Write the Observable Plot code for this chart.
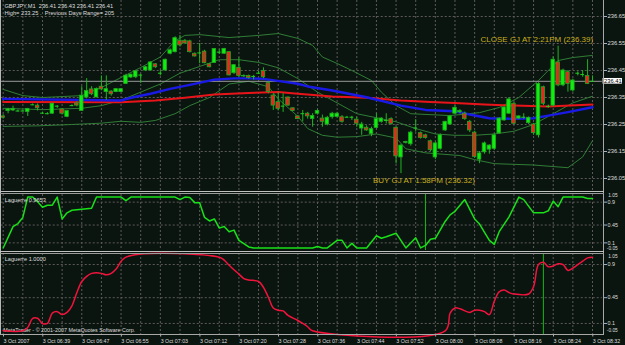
<!DOCTYPE html>
<html><head><meta charset="utf-8">
<script src="https://cdn.jsdelivr.net/npm/d3@7"></script>
<script src="https://cdn.jsdelivr.net/npm/@observablehq/plot@0.6"></script>
<style>
html,body{margin:0;padding:0;background:#0b1510;}
#c{position:relative;width:625px;height:345px;background:#0b1510;overflow:hidden;font-family:"Liberation Sans",Arial,sans-serif;}
.p{position:absolute;left:0;}
.p svg{display:block;overflow:visible;}
.ln{position:absolute;background:#a0a0a0;}
</style></head><body><div id="c"></div>
<script>
// ---------------- data ----------------
const open  = [236.280,236.300,236.302,236.300,236.300,236.296,236.323,236.320,236.292,236.290,236.290,236.318,236.306,236.278,236.320,236.328,236.300,236.350,236.380,236.350,236.390,236.370,236.372,236.370,236.370,236.400,236.424,236.425,236.433,236.450,236.450,236.473,236.440,236.450,236.512,236.518,236.560,236.560,236.558,236.512,236.515,236.520,236.473,236.478,236.518,236.512,236.518,236.440,236.460,236.430,236.430,236.428,236.440,236.448,236.403,236.357,236.333,236.318,236.350,236.310,236.280,236.290,236.290,236.270,236.290,236.272,236.250,236.277,236.278,236.277,236.277,236.277,236.268,236.235,236.238,236.215,236.237,236.260,236.265,236.270,236.238,236.128,236.182,236.177,236.237,236.218,236.210,236.188,236.128,236.160,236.228,236.250,236.290,236.295,236.290,236.260,236.220,236.120,236.147,236.157,236.160,236.217,236.265,236.290,236.327,236.272,236.277,236.255,236.250,236.210,236.388,236.317,236.320,236.480,236.395,236.444,236.376,236.440,236.435,236.430,236.410];
const high  = [236.286,236.310,236.318,236.304,236.302,236.308,236.326,236.326,236.296,236.294,236.328,236.320,236.309,236.300,236.323,236.334,236.390,236.420,236.390,236.385,236.430,236.430,236.375,236.382,236.382,236.436,236.436,236.450,236.436,236.465,236.482,236.476,236.451,236.492,236.530,236.575,236.580,236.565,236.562,236.515,236.550,236.525,236.476,236.530,236.527,236.532,236.520,236.470,236.497,236.434,236.433,236.432,236.447,236.460,236.410,236.364,236.370,236.364,236.352,236.312,236.283,236.302,236.295,236.290,236.305,236.285,236.280,236.295,236.295,236.283,236.280,236.280,236.277,236.258,236.245,236.240,236.290,236.275,236.290,236.275,236.242,236.175,236.188,236.225,236.268,236.222,236.214,236.192,236.185,236.215,236.262,236.284,236.320,236.305,236.296,236.265,236.225,236.150,236.185,236.175,236.215,236.275,236.318,236.350,236.332,236.282,236.290,236.278,236.254,236.405,236.392,236.322,236.500,236.540,236.455,236.450,236.418,236.445,236.450,236.490,236.430];
const low   = [236.270,236.290,236.298,236.296,236.297,236.280,236.320,236.300,236.288,236.286,236.288,236.310,236.285,236.275,236.316,236.315,236.300,236.345,236.357,236.350,236.375,236.340,236.355,236.368,236.368,236.398,236.420,236.420,236.402,236.446,236.448,236.458,236.430,236.448,236.508,236.515,236.537,236.548,236.515,236.500,236.475,236.475,236.460,236.476,236.510,236.510,236.430,236.435,236.425,236.424,236.418,236.415,236.437,236.420,236.364,236.302,236.300,236.295,236.318,236.298,236.268,236.260,236.270,236.240,236.285,236.240,236.245,236.270,236.275,236.255,236.274,236.265,236.240,236.210,236.225,236.205,236.234,236.255,236.252,236.248,236.104,236.068,236.178,236.170,236.222,236.196,236.196,236.150,236.120,236.155,236.224,236.246,236.285,236.290,236.265,236.220,236.125,236.105,236.140,236.140,236.155,236.214,236.262,236.288,236.250,236.268,236.270,236.250,236.210,236.200,236.320,236.310,236.315,236.390,236.390,236.370,236.370,236.430,236.425,236.398,236.410];
const close = [236.275,236.306,236.308,236.300,236.300,236.308,236.323,236.310,236.292,236.290,236.327,236.318,236.290,236.300,236.320,236.320,236.357,236.374,236.362,236.382,236.380,236.381,236.362,236.381,236.381,236.431,236.435,236.447,236.433,236.462,236.480,236.462,236.440,236.490,236.525,236.570,236.543,236.550,236.518,236.502,236.515,236.477,236.462,236.530,236.518,236.530,236.432,236.470,236.430,236.428,236.422,236.428,236.440,236.425,236.370,236.320,236.308,236.318,236.320,236.300,236.270,236.290,236.280,236.282,236.300,236.260,236.275,236.290,236.290,236.260,236.277,236.277,236.253,236.250,236.228,236.233,236.270,236.272,236.265,236.252,236.132,236.172,236.185,236.220,236.237,236.200,236.200,236.155,236.180,236.210,236.260,236.280,236.312,236.300,236.270,236.228,236.130,236.143,236.180,236.172,236.210,236.272,236.313,236.343,236.253,236.280,236.277,236.275,236.218,236.400,236.327,236.317,236.490,236.395,236.450,236.400,236.413,236.440,236.435,236.400,236.410];

// moving averages: [bar, price]
const maBlue = [[0,236.345],[24,236.339],[26,236.349],[30,236.364],[34,236.382],[38,236.397],[43,236.416],[47,236.421],[50,236.421],[53,236.419],[57,236.409],[60,236.401],[62,236.391],[67,236.376],[74,236.351],[81,236.320],[86,236.304],[92,236.299],[95,236.287],[99,236.273],[104,236.271],[108,236.273],[111,236.283],[115,236.296],[120,236.314]];
const maRed  = [[0,236.333],[24,236.332],[28,236.336],[31,236.339],[37,236.349],[43,236.361],[50,236.367],[56,236.370],[60,236.364],[67,236.354],[74,236.349],[81,236.339],[87,236.333],[92,236.330],[98,236.324],[104,236.320],[111,236.317],[120,236.324]];
// Bollinger bands: [bar, price]
const bbUpper = [[0,236.380],[4,236.357],[8,236.350],[16,236.357],[20,236.387],[24,236.424],[28,236.461],[32,236.500],[35,236.560],[37,236.580],[40,236.583],[46,236.572],[52,236.580],[56,236.587],[60,236.569],[63,236.543],[65,236.500],[68,236.476],[71,236.450],[75,236.413],[77,236.370],[80,236.320],[83,236.290],[91,236.283],[97,236.294],[101,236.313],[105,236.350],[109,236.413],[113,236.487],[116,236.498],[120,236.506]];
const bbMid = [[0,236.310],[8,236.305],[16,236.310],[20,236.320],[24,236.340],[28,236.370],[32,236.400],[36,236.440],[40,236.465],[44,236.490],[48,236.490],[52,236.480],[56,236.460],[60,236.420],[64,236.370],[68,236.330],[72,236.290],[76,236.275],[80,236.260],[84,236.235],[88,236.215],[92,236.210],[96,236.210],[100,236.215],[104,236.225],[108,236.250],[112,236.290],[116,236.330],[120,236.355]];
const bbLower = [[0,236.243],[7,236.245],[14,236.250],[20,236.255],[24,236.262],[28,236.258],[31,236.265],[35,236.290],[38,236.320],[42,236.350],[46,236.400],[50,236.410],[54,236.390],[56,236.345],[60,236.280],[62,236.235],[65,236.210],[68,236.203],[72,236.205],[76,236.215],[80,236.200],[82,236.160],[86,236.145],[93,236.135],[96,236.120],[100,236.105],[108,236.100],[115,236.090],[118,236.130],[120,236.190]];

// Laguerre indicators: [bar, value]
const lagFast = [[0,0],[2,0.42],[3,0.48],[4,0.60],[5,1],[6,1],[7,0.91],[8,0.80],[9,0.84],[10,0.84],[11,1],[12,0.57],[13,0.69],[14,0.74],[16,0.76],[18,0.78],[19,1],[24,1],[25,0.93],[26,1],[35,1],[36,0.95],[37,1],[38,0.99],[39,0.89],[40,0.89],[41,0.60],[42,0.53],[43,0.57],[44,0.39],[45,0.42],[46,0.32],[47,0.35],[48,0.15],[50,0.02],[51,0],[63,0],[64,0.03],[65,0],[66,0],[68,0.15],[69,0.15],[70,0],[71,0.09],[72,0],[74,0],[76,0.24],[77,0.19],[78,0.22],[80,0.29],[82,0],[84,0.20],[85,0],[86,0.05],[87,0.17],[88,0.19],[90,0.52],[91,0.65],[92,0.72],[94,0.95],[96,0.57],[97,0.47],[99,0.15],[100,0.07],[101,0.32],[103,0.61],[105,1],[106,0.95],[108,0.69],[110,0.69],[111,0.73],[112,0.92],[113,0.81],[114,1],[118,1],[119,0.97],[120,0.97]];
const lagSlow = [[0,0],[4,0],[5,0.045],[6,0.17],[7,0.17],[8,0.10],[9,0.10],[10,0.24],[11,0.26],[12,0.22],[13,0.25],[14,0.34],[15,0.52],[16,0.67],[17,0.74],[18,0.78],[19,0.79],[20,0.78],[21,0.76],[22,0.78],[23,0.84],[25,1],[44,1],[45,0.96],[46,0.89],[48,0.77],[49,0.71],[50,0.69],[52,0.67],[53,0.59],[54,0.455],[55,0.31],[56,0.28],[57,0.27],[58,0.21],[60,0.14],[61,0.10],[62,0.055],[63,0],[90,0],[91,0.24],[92,0.31],[93,0.30],[95,0.25],[96,0.28],[97,0.28],[98,0.26],[99,0.22],[100,0.40],[101,0.53],[102,0.555],[103,0.52],[104,0.50],[107,0.50],[108,0.60],[109,0.90],[110,0.93],[111,0.87],[112,0.88],[113,0.91],[114,0.90],[115,0.82],[116,0.85],[117,0.90],[118,0.945],[119,0.99],[120,1]];

const priceTicks = [236.05,236.15,236.25,236.35,236.45,236.55,236.65];
const levelTicks = [0.9,0.45,0.1];
const timeTickBars = [0,8,16,24,32,40,48,56,64,72,80,88,96,104,112,120];
const timeLabels = ["3 Oct 2007","3 Oct 06:39","3 Oct 06:47","3 Oct 06:55","3 Oct 07:03","3 Oct 07:12","3 Oct 07:20","3 Oct 07:28","3 Oct 07:36","3 Oct 07:44","3 Oct 07:52","3 Oct 08:00","3 Oct 08:08","3 Oct 08:16","3 Oct 08:24","3 Oct 08:32"];
const notes = [{text:"CLOSE GJ AT 2:21PM (236.39)", bar:97.2, price:236.566},{text:"BUY GJ AT 1:58PM (236.32)", bar:75.3, price:236.042}];
const vMarkFast = [86];
const vMarkSlow = [110];
const titleLines = "GBPJPY,M1  236.41 236.43 236.41 236.41\nHigh= 233.25 .  Previous Days Range= 205";
const lagFastLabel = "Laguerre 0.9653";
const lagSlowLabel = "Laguerre 1.0000";
const copyright = "MetaTrader - \u00a9 2001-2007 MetaQuotes Software Corp.";

// ---------------- drawing ----------------
const FONT = "'Liberation Sans', Arial, sans-serif";
const GRID = "#5e5a5a", TXT = "#dedede";
const gridIdx = d3.range(0, 121, 4);
const candles = d3.range(121).map(i => ({i, o: open[i], h: high[i], l: low[i], c: close[i]}));
const pts = a => a.map(([i, v]) => ({i, v}));
const xScale = {domain: [0, 120], axis: null, label: null};
const base = {width: 625, marginLeft: 2.7, marginRight: 33, style: {background: "transparent", color: TXT, fontFamily: FONT, overflow: "visible"}};

const c = document.getElementById("c");
function place(el, top) { const d = document.createElement("div"); d.className = "p"; d.style.top = top + "px"; d.appendChild(el); c.appendChild(d); }
function line(l, t, w, h, col) { const d = document.createElement("div"); d.className = "ln"; Object.assign(d.style, {left: l+"px", top: t+"px", width: w+"px", height: h+"px"}); if (col) d.style.background = col; c.appendChild(d); }

const last = close[close.length - 1];
const main = Plot.plot({
  ...base, height: 190, marginTop: 0, marginBottom: 0,
  x: xScale,
  y: {domain: [236.0056, 236.7093], axis: null, label: null},
  marks: [
    Plot.ruleY(priceTicks, {x1: -0.4, x2: 122, stroke: GRID, strokeDasharray: "2,2"}),
    Plot.ruleX(gridIdx, {stroke: GRID, strokeDasharray: "2,2"}),
    Plot.line(pts(bbUpper), {x: "i", y: "v", stroke: "#2f7d35", strokeWidth: 1}),
    Plot.line(pts(bbMid), {x: "i", y: "v", stroke: "#2f7d35", strokeWidth: 1}),
    Plot.line(pts(bbLower), {x: "i", y: "v", stroke: "#2f7d35", strokeWidth: 1}),
    Plot.ruleY([last], {x1: -0.6, x2: 122, stroke: "#9a9a9a", strokeWidth: 1}),
    Plot.line(pts(maRed), {x: "i", y: "v", stroke: "#e8141a", strokeWidth: 2}),
    Plot.line(pts(maBlue), {x: "i", y: "v", stroke: "#1a1ae6", strokeWidth: 2.4}),
    Plot.ruleX(candles, {x: "i", y1: "l", y2: "h", stroke: "#1fb41f", strokeWidth: 1}),
    Plot.rect(candles.filter(d => d.o !== d.c), {x1: d => d.i - 0.36, x2: d => d.i + 0.36, y1: "o", y2: "c", fill: d => d.c > d.o ? "#0df00d" : "#e42a1c", stroke: "#22a522", strokeWidth: 0.8}),
    Plot.ruleY(candles.filter(d => d.o === d.c), {x1: d => d.i - 0.38, x2: d => d.i + 0.38, y: "o", stroke: "#1fd01f", strokeWidth: 1}),
    Plot.axisY({anchor: "right", label: null, ticks: priceTicks, tickFormat: d3.format(".2f"), tickSize: 3, tickPadding: 1, dx: 11, stroke: "#b0b0b0", fill: TXT, fontSize: 5.8, fontFamily: FONT}),
    Plot.rect([last], {x1: 122.15, x2: 126.1, y1: d => d - 0.0105, y2: d => d + 0.0105, fill: "#ffffff"}),
    Plot.text([last], {x: 122.35, y: d => d, text: d => d.toFixed(2), textAnchor: "start", fill: "#000000", fontSize: 5.8, fontFamily: FONT}),
    Plot.text(notes, {x: "bar", y: "price", text: "text", textAnchor: "start", fill: "#c9ae1e", fontSize: 8, fontFamily: FONT}),
    Plot.text([titleLines], {frameAnchor: "top-left", dx: 1.2, dy: 2.6, text: d => d, lineHeight: 1.25, textAnchor: "start", lineAnchor: "top", fill: TXT, fontSize: 5.7, fontFamily: FONT})
  ]
});
place(main, 0);

function lagPanel(data, color, label, marks, height, mb, curve, topDy, botDy) {
  return Plot.plot({
    ...base, height, marginTop: 0, marginBottom: mb,
    x: xScale,
    y: {domain: [-0.05, 1.05], axis: null, label: null},
    marks: [
      Plot.ruleY(levelTicks, {x1: -0.4, x2: 122, stroke: GRID, strokeDasharray: "2,2"}),
      Plot.ruleX(gridIdx, {stroke: GRID, strokeDasharray: "2,2"}),
      ...marks,
      Plot.line(pts(data), {x: "i", y: "v", stroke: color, strokeWidth: 1.5, curve}),
      Plot.axisY({anchor: "right", label: null, ticks: levelTicks, tickFormat: d => String(d), tickSize: 3, tickPadding: 1, dx: 11, stroke: "#b0b0b0", fill: TXT, fontSize: 5.4, fontFamily: FONT}),
      Plot.text([1.05], {x: 122.2, dx: 5, dy: topDy, y: d => d, text: d => d.toFixed(2), textAnchor: "start", fill: TXT, fontSize: 4.8, fontFamily: FONT}),
      Plot.text([-0.05], {x: 122.2, dx: 3.5, dy: botDy, y: d => d, text: d => d.toFixed(2), textAnchor: "start", fill: TXT, fontSize: 4.8, fontFamily: FONT}),
      Plot.text([label], {frameAnchor: "top-left", dx: 1.5, dy: 6, text: d => d, lineAnchor: "middle", textAnchor: "start", fill: TXT, fontSize: 5.6, fontFamily: FONT})
    ]
  });
}

const mid = lagPanel(lagFast, "#19e019", lagFastLabel, [
  Plot.ruleX(vMarkFast, {stroke: "#12b812", strokeWidth: 1})
], 56, 0, "linear", 1.3, -2.2);
place(mid, 194);

const bot = lagPanel(lagSlow, "#f0143c", lagSlowLabel, [
  Plot.ruleX(vMarkSlow, {stroke: "#12b812", strokeWidth: 1}),
  Plot.text([copyright], {frameAnchor: "bottom-left", dx: 0, dy: -4.5, text: d => d, lineAnchor: "middle", textAnchor: "start", fill: TXT, fontSize: 5.4, fontFamily: FONT}),
  Plot.axisX({label: null, ticks: timeTickBars, tickFormat: (d, k) => timeLabels[k], anchor: "bottom", tickSize: 2.5, tickPadding: 1.8, textAnchor: "start", dx: 0.3, stroke: "#b0b0b0", fill: TXT, fontSize: 5.3, fontFamily: FONT})
], 92, 11, "catmull-rom", 3.3, -3.6);
place(bot, 253);

// window frame / separators
line(0, 0, 1.2, 334, "#b8b8b8");
line(603, 0, 1, 334, "#a8a8a8");
line(0, 190.5, 604, 1.2, "#c0c0c0");
line(0, 192.8, 604, 1.2, "#9a9a9a");
line(0, 250.8, 604, 1.2, "#c0c0c0");
line(0, 253, 604, 1, "#9a9a9a");
line(0, 333.5, 604, 1, "#a8a8a8");
</script></body></html>
